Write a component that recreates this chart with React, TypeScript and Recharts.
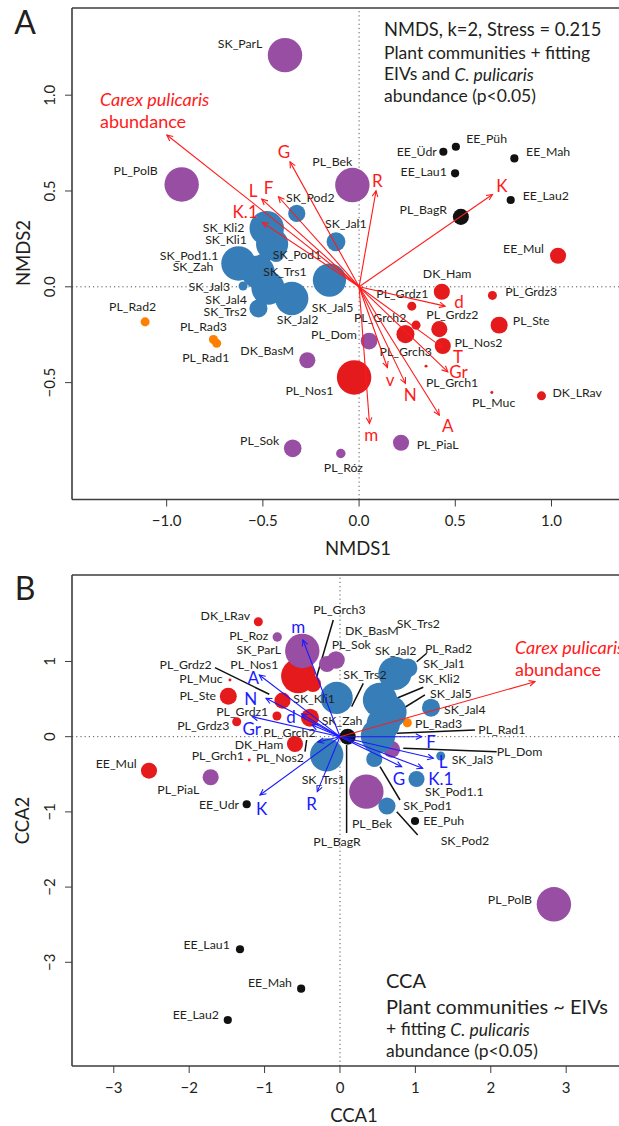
import React from "react";
import { ScatterChart, Scatter, XAxis, YAxis, ReferenceLine } from "recharts";

const FONT = "Lato, 'Liberation Sans', sans-serif";
const INK = "#231f20";

// sites – every array below follows this order
const SITES = [
  "SK_ParL", "SK_Pod2", "SK_Jal1", "SK_Kli2", "SK_Kli1", "SK_Pod1.1", "SK_Zah", "SK_Pod1", "SK_Trs1", "SK_Jal5", "SK_Jal2", "SK_Jal4", "SK_Trs2", "SK_Jal3",
  "PL_PolB", "PL_Bek", "PL_BagR", "PL_Rad2", "PL_Rad3", "PL_Rad1", "PL_Dom", "PL_Sok", "PL_Róz", "PL_PiaL", "PL_Nos1",
  "PL_Grdz1", "PL_Grdz2", "PL_Grdz3", "PL_Grch1", "PL_Grch2", "PL_Grch3", "PL_Nos2", "PL_Ste", "PL_Muc",
  "DK_BasM", "DK_Ham", "DK_LRav", "EE_Üdr", "EE_Püh", "EE_Mah", "EE_Lau1", "EE_Lau2", "EE_Mul",
];
// cluster: 1 blue, 2 purple, 3 red, 4 orange, 5 black
const CLUSTER = [
  2, 1, 1, 1, 1, 1, 1, 1, 1, 1, 1, 1, 1, 1,
  2, 2, 5, 4, 4, 4, 2, 2, 2, 2, 3,
  3, 3, 3, 3, 3, 3, 3, 3, 3,
  2, 3, 3, 5, 5, 5, 5, 5, 3,
];
// C. pulicaris abundance (circle size)
const ABUND = [
  16, 4, 4.8, 16, 14, 3.5, 16, 3.5, 15, 15, 15, 4.4, 15, 1.1,
  16, 16, 3.5, 1.1, 1.1, 1.1, 3.8, 4.2, 1.2, 3.5, 16,
  1.1, 3.5, 1.1, 0.12, 4.4, 1.1, 3.5, 3.9, 0.12,
  3.5, 3.5, 1.1, 0.9, 0.9, 0.9, 0.9, 0.9, 3.5,
];
const NMDS1 = [
  -0.385, -0.324, -0.12, -0.48, -0.452, -0.504, -0.627, -0.431, -0.525, -0.154, -0.35, -0.523, -0.473, -0.603,
  -0.922, -0.035, 0.529, -1.112, -0.757, -0.74, 0.052, -0.345, -0.095, 0.218, -0.026,
  0.274, 0.417, 0.693, 0.348, 0.241, 0.296, 0.435, 0.728, 0.69,
  -0.269, 0.43, 0.948, 0.438, 0.503, 0.807, 0.499, 0.788, 1.034,
];
const NMDS2 = [
  1.209, 0.383, 0.235, 0.306, 0.223, 0.129, 0.122, 0.171, 0.077, 0.035, -0.061, -0.113, -0.007, 0.004,
  0.534, 0.531, 0.365, -0.183, -0.275, -0.295, -0.283, -0.843, -0.87, -0.814, -0.473,
  -0.101, -0.221, -0.045, -0.414, -0.247, -0.2, -0.309, -0.2, -0.551,
  -0.383, -0.026, -0.569, 0.705, 0.731, 0.67, 0.592, 0.453, 0.162,
];
const CCA1 = [
  -0.5, 0.623, 0.902, 0.531, -0.044, 1.015, 0.504, 0.455, -0.176, 0.663, 0.729, 1.207, 0.574, 1.336,
  2.837, 0.35, 0.102, 0.862, 0.893, 0.69, 0.686, -0.053, -0.832, -1.715, -0.553,
  -0.836, -0.763, -1.37, -1.203, -0.398, -0.531, -0.358, -1.481, -1.459,
  -0.172, -0.597, -1.083, -1.237, 0.995, -0.515, -1.326, -1.488, -2.533,
];
const CCA2 = [
  1.14, -0.922, 0.914, 0.488, 0.515, -0.562, 0.009, -0.297, -0.243, 0.328, 0.843, 0.386, 0.169, -0.257,
  -2.229, -0.731, 0.0, 0.914, 0.186, 0.116, -0.168, 1.02, 1.326, -0.54, 0.807,
  0.275, 0.479, 0.199, -0.31, 0.253, 0.688, 0.701, 0.537, 0.754,
  0.967, -0.097, 1.529, -0.899, -1.121, -3.351, -2.827, -3.767, -0.452,
];

// fitted EIV vectors
const EIV_NMDS = ["G", "L", "F", "K.1", "R", "K", "d", "T", "Gr", "v", "N", "A", "m"];
const EIV_NMDS1 = [-0.359, -0.506, -0.419, -0.502, 0.088, 0.693, 0.447, 0.431, 0.461, 0.147, 0.241, 0.417, 0.054];
const EIV_NMDS2 = [0.652, 0.458, 0.47, 0.336, 0.501, 0.482, -0.101, -0.315, -0.444, -0.421, -0.504, -0.67, -0.713];
const EIV_CCA = ["m", "A", "N", "d", "Gr", "K", "R", "F", "L", "G", "K.1", "T", "v"];
const EIV_CCA1 = [-0.491, -1.07, -0.981, -0.508, -1.163, -1.061, -0.301, 1.083, 1.238, 0.818, 1.097, -0.371, -0.292];
const EIV_CCA2 = [1.286, 0.82, 0.511, 0.302, 0.266, -0.775, -0.731, 0.0, -0.287, -0.399, -0.42, 0.156, -0.07];
const CAREX_NMDS = [-0.999, 0.792];
const CAREX_CCA = [2.586, 0.731];

const COLORS: Record<number, string> = { 1: "#377eb8", 2: "#984ea3", 3: "#e41a1c", 4: "#ff7f00", 5: "#111111" };
const DRAW_ORDER = [4, 3, 2, 1, 5];
const radius = (ab: number) => 4.3 * Math.sqrt(ab);

type Anchor = "start" | "middle" | "end";
type LabelMap = Record<string, [number, number, Anchor]>;

// label placement (pixel offsets from the point)
const LABELS_A: LabelMap = {
  "SK_ParL": [-22.7, -11.7, "end"], "SK_Pod2": [-10.7, -16, "start"], "SK_Jal1": [-11, -18.4, "start"],
  "SK_Kli2": [-22.4, -0.3, "end"], "SK_Kli1": [-25.3, -4.7, "end"], "SK_Pod1.1": [-43.7, -7, "end"],
  "SK_Zah": [-25, 3.4, "end"], "SK_Pod1": [-3.3, 0, "start"], "SK_Trs1": [5.3, -0.3, "start"],
  "SK_Jal5": [-17.6, 27.3, "start"], "SK_Jal2": [-15, 20.7, "start"], "SK_Jal4": [-11.6, -9.3, "end"],
  "SK_Trs2": [-21.3, 23.7, "end"], "SK_Jal3": [-13, 0, "end"], "PL_PolB": [-24, -13.6, "end"],
  "PL_Bek": [-40, -24, "start"], "PL_BagR": [-14, -7.4, "end"], "PL_Rad2": [-12.5, -15, "middle"],
  "PL_Rad3": [-10, -13.3, "middle"], "PL_Rad1": [-10.9, 14.4, "middle"], "PL_Dom": [-12.3, -6.7, "end"],
  "PL_Sok": [-13.4, -8.3, "end"], "PL_Róz": [2.6, 14, "middle"], "PL_PiaL": [15.7, 1.6, "start"],
  "PL_Nos1": [-20.7, 12.7, "end"], "PL_Grdz1": [-9.5, -12.7, "middle"], "PL_Grdz2": [13, -14.7, "middle"],
  "PL_Grdz3": [12.7, -3.6, "start"], "PL_Grch1": [26, 16.3, "middle"], "PL_Grch2": [-25.3, -16.7, "middle"],
  "PL_Grch3": [-10.3, 26.7, "middle"], "PL_Nos2": [11.6, -3.3, "start"], "PL_Ste": [13.7, -5, "start"],
  "PL_Muc": [1.8, 10.4, "middle"], "DK_BasM": [-13.3, -9.3, "end"], "DK_Ham": [5.3, -18.4, "middle"],
  "DK_LRav": [11, -3.4, "start"], "EE_Üdr": [-6.6, 0, "end"], "EE_Püh": [10.3, -8.4, "start"],
  "EE_Mah": [11.7, -6.6, "start"], "EE_Lau1": [-8.3, -1.6, "end"], "EE_Lau2": [12, -4.3, "start"],
  "EE_Mul": [-14, -7.4, "end"],
};
const LABELS_B: LabelMap = {
  "SK_ParL": [-21.3, -1, "end"], "SK_Pod2": [78, 34.7, "middle"], "SK_Jal1": [15.3, -4, "start"],
  "SK_Kli2": [38.3, -21.7, "start"], "SK_Kli1": [-43.4, 0.3, "start"], "SK_Pod1.1": [8.5, 12.7, "start"],
  "SK_Zah": [-56.3, -15.5, "start"], "SK_Pod1": [29, 46, "start"], "SK_Trs1": [-25, 25, "start"],
  "SK_Jal5": [40, -18.7, "start"], "SK_Jal2": [-20, -22.6, "start"], "SK_Jal4": [13, 1.6, "start"],
  "SK_Trs2": [-40, -49, "start"], "SK_Jal3": [11, 3.3, "start"], "PL_PolB": [-21.9, -5, "end"],
  "PL_Bek": [5.6, 31.6, "middle"], "PL_BagR": [-10.7, 105, "middle"], "PL_Rad2": [20, -19.7, "start"],
  "PL_Rad3": [7.7, 0.6, "start"], "PL_Rad1": [86.3, 1.3, "start"], "PL_Dom": [105, 2.4, "start"],
  "PL_Sok": [-4.3, -15, "start"], "PL_Róz": [-9, -1, "end"], "PL_PiaL": [-11.4, 12.7, "end"],
  "PL_Nos1": [-20, -11.7, "end"], "PL_Grdz1": [-8.7, -5, "end"], "PL_Grdz2": [-70.8, -36.4, "end"],
  "PL_Grdz3": [-7.4, 4, "end"], "PL_Grch1": [-5.3, -4.3, "end"], "PL_Grch2": [-46.7, 15.3, "start"],
  "PL_Grch3": [13.3, -75, "start"], "PL_Nos2": [-57, 73.5, "start"], "PL_Ste": [-12.3, -1.3, "end"],
  "PL_Muc": [-7.3, -1.7, "end"], "DK_BasM": [18, -33, "start"], "DK_Ham": [-11.7, 0.3, "end"],
  "DK_LRav": [-8.3, -6.7, "end"], "EE_Üdr": [-7.7, 0.7, "end"], "EE_Püh": [8.2, 0, "start"],
  "EE_Mah": [-9.2, -6, "end"], "EE_Lau1": [-10.2, -5, "end"], "EE_Lau2": [-8.8, -5, "end"],
  "EE_Mul": [-12.3, -7.4, "end"],
};
const EXTRA_B: { site: string; dx: number; dy: number; anchor: Anchor }[] = [
  { site: "SK_Trs2", dx: 13.4, dy: -100.7, anchor: "start" },
];
const RENAME_B: Record<string, string> = { "PL_Róz": "PL_Roz", "EE_Üdr": "EE_Udr", "EE_Püh": "EE_Puh" };

const EIV_OFF_A: Record<string, [number, number]> = {
  G: [-6, -10], L: [-8.7, -8.3], F: [-10, -9], "K.1": [-17.3, -11.3], R: [1.3, -10], K: [9.4, -8.6],
  d: [14, -5], T: [16, 9], Gr: [10.6, -0.7], v: [2.7, 12], N: [4.7, 11], A: [8.4, 10], m: [1.7, 10.7],
};
const EIV_OFF_B: Record<string, [number, number]> = {
  m: [-4.7, -13.3], A: [-6, 2.3], N: [-15.3, 0], d: [-10.7, 2.7], Gr: [-0.6, 11.6], K: [1.7, 13.3],
  R: [-5.6, 12.3], F: [9.3, 5], L: [9.7, 3.7], G: [-2.7, 12.3], "K.1": [18, 10],
};

// black leader lines in the CCA panel (from label to site)
const LEADERS_B = [
  [-1.658, 0.918, -0.938, 0.564], [-0.089, 1.552, -0.309, 0.798], [-0.442, -0.044, -0.464, -0.199],
  [0.309, 0.71, 0.155, 0.399], [1.15, 1.109, 1.017, 0.997], [1.105, 0.657, 0.752, 0.511],
  [1.127, 0.555, 0.84, 0.378], [0.752, 0.045, 1.79, 0.089], [0.84, -0.154, 2.078, -0.199],
  [0.531, -0.399, 0.796, -0.842], [0.753, -0.997, 1.031, -1.307], [0.088, -0.11, 0.088, -1.281],
];

const minus = (s: string) => s.replace("-", "\u2212");

function arrowShape(kx: number, ky: number, color: string, textColor: string) {
  return (p: any) => {
    const { cx, cy, payload } = p;
    const ox = cx - payload.x * kx;
    const oy = cy + payload.y * ky;
    const ang = Math.atan2(cy - oy, cx - ox);
    const h = 6.5;
    const a = Math.PI / 7;
    const p1 = [cx - h * Math.cos(ang - a), cy - h * Math.sin(ang - a)];
    const p2 = [cx - h * Math.cos(ang + a), cy - h * Math.sin(ang + a)];
    return (
      <g>
        <line x1={ox} y1={oy} x2={cx} y2={cy} stroke={color} strokeWidth={1.1} />
        <polyline points={`${p1[0]},${p1[1]} ${cx},${cy} ${p2[0]},${p2[1]}`} fill="none" stroke={color} strokeWidth={1.1} />
        {payload.off && (
          <text x={cx + payload.off[0]} y={cy + payload.off[1]} textAnchor="middle" dominantBaseline="central"
            fontSize={17} fontFamily={FONT} fill={textColor}>{payload.label}</text>
        )}
      </g>
    );
  };
}

const circleShape = (p: any) => (
  <circle cx={p.cx} cy={p.cy} r={p.payload.r} fill={COLORS[p.payload.c]} />
);

const labelShape = (p: any) => (
  <text x={p.cx + p.payload.dx} y={p.cy + p.payload.dy} textAnchor={p.payload.anchor} dominantBaseline="central"
    fontSize={12.3} fontFamily={FONT} fill={INK}>{p.payload.text}</text>
);

interface PanelProps {
  w: number; h: number;
  m: { top: number; right: number; bottom: number; left: number };
  xd: [number, number]; yd: [number, number];
  xTicks: number[]; yTicks: number[]; fmt: (v: number) => string;
  sx: number[]; sy: number[]; labels: LabelMap; rename?: Record<string, string>;
  extra?: { site: string; dx: number; dy: number; anchor: Anchor }[];
  eiv: string[]; ex: number[]; ey: number[]; eivOff: Record<string, [number, number]>;
  eivColor: string; eivText: string; carex: number[]; leaders?: number[][];
}

const AXIS_H = 30;
const AXIS_W = 30;

function Panel(props: PanelProps) {
  const { w, h, m, xd, yd } = props;
  const kx = (w - m.left - m.right) / (xd[1] - xd[0]);
  const ky = (h - m.top - m.bottom) / (yd[1] - yd[0]);

  const pts = SITES.map((name, i) => ({ name, x: props.sx[i], y: props.sy[i], c: CLUSTER[i], r: radius(ABUND[i]) }))
    .sort((a, b) => DRAW_ORDER.indexOf(a.c) - DRAW_ORDER.indexOf(b.c) || a.r - b.r);

  const labels = SITES.map((name, i) => {
    const l = props.labels[name];
    return { x: props.sx[i], y: props.sy[i], text: props.rename?.[name] ?? name, dx: l[0], dy: l[1], anchor: l[2] };
  });
  (props.extra || []).forEach((e) => {
    const i = SITES.indexOf(e.site);
    labels.push({ x: props.sx[i], y: props.sy[i], text: props.rename?.[e.site] ?? e.site, dx: e.dx, dy: e.dy, anchor: e.anchor });
  });

  const arrows = props.eiv.map((n, i) => ({ x: props.ex[i], y: props.ey[i], label: n, off: props.eivOff[n] }));
  const carex = [{ x: props.carex[0], y: props.carex[1], label: "", off: undefined }];

  const axisStroke = "#3d3d3d";
  const xTick = (p: any) => (
    <text x={p.x} y={p.y} dy="0.71em" textAnchor="middle" fontSize={15} fontFamily={FONT} fill={INK}>
      {props.fmt(p.payload.value)}
    </text>
  );
  const yTick = (p: any) => (
    <text x={p.x} y={p.y} textAnchor="middle" transform={`rotate(-90 ${p.x} ${p.y})`} fontSize={15} fontFamily={FONT} fill={INK}>
      {props.fmt(p.payload.value)}
    </text>
  );

  // plot box is margin + axis band; axis bands take AXIS_H / AXIS_W
  const margin = { top: m.top, right: m.right, bottom: m.bottom - AXIS_H, left: m.left - AXIS_W };

  return (
    <ScatterChart width={w} height={h} margin={margin}>
      <XAxis type="number" dataKey="x" domain={xd} ticks={props.xTicks} interval={0} height={AXIS_H}
        tickSize={7} tickMargin={9} tick={xTick} axisLine={{ stroke: axisStroke, strokeWidth: 1.6 }}
        tickLine={{ stroke: axisStroke }} allowDataOverflow />
      <YAxis type="number" dataKey="y" domain={yd} ticks={props.yTicks} interval={0} width={AXIS_W}
        tickSize={7} tickMargin={10} tick={yTick} axisLine={{ stroke: axisStroke, strokeWidth: 1.6 }}
        tickLine={{ stroke: axisStroke }} allowDataOverflow />
      <ReferenceLine y={yd[1]} stroke={axisStroke} strokeWidth={1.6} ifOverflow="visible" />
      <Scatter data={pts} shape={circleShape} isAnimationActive={false} />
      <ReferenceLine x={0} stroke="#555" strokeDasharray="1.2 3" ifOverflow="visible" />
      <ReferenceLine y={0} stroke="#555" strokeDasharray="1.2 3" ifOverflow="visible" />
      <Scatter data={labels} shape={labelShape} isAnimationActive={false} />
      {(props.leaders || []).map((s, i) => (
        <ReferenceLine key={i} segment={[{ x: s[0], y: s[1] }, { x: s[2], y: s[3] }]} stroke="#111" strokeWidth={1.5} ifOverflow="visible" />
      ))}
      <Scatter data={arrows} shape={arrowShape(kx, ky, props.eivColor, props.eivText)} isAnimationActive={false} />
      <Scatter data={carex} shape={arrowShape(kx, ky, "#ff1a1a", "#ff1a1a")} isAnimationActive={false} />
    </ScatterChart>
  );
}

const txt = { fontFamily: FONT, fill: INK } as const;
const RED = "#ff1a1a";

export default function App() {
  return (
    <div style={{ position: "absolute", left: 0, top: 0, width: 619, height: 1126, overflow: "hidden", background: "#fff" }}>
      {/* A: NMDS */}
      <div style={{ position: "absolute", left: 0, top: 0 }}>
        <Panel w={630} h={560} m={{ top: 8, right: 5, bottom: 60.5, left: 72 }}
          xd={[-1.492, 1.382]} yd={[-1.11, 1.455]} xTicks={[-1, -0.5, 0, 0.5, 1]} yTicks={[-0.5, 0, 0.5, 1]}
          fmt={(v) => minus(v.toFixed(1))} sx={NMDS1} sy={NMDS2} labels={LABELS_A}
          eiv={EIV_NMDS} ex={EIV_NMDS1} ey={EIV_NMDS2} eivOff={EIV_OFF_A} eivColor="#ff1a1a" eivText={RED}
          carex={CAREX_NMDS} />
        <svg width={619} height={560} style={{ position: "absolute", left: 0, top: 0, pointerEvents: "none" }}>
          <text x={25} y={21} fontSize={32} textAnchor="middle" dominantBaseline="central" {...txt}>A</text>
          <text x={384} y={29} fontSize={18.3} dominantBaseline="central" {...txt}>NMDS, k=2, Stress = 0.215</text>
          <text x={384} y={52} fontSize={17.5} dominantBaseline="central" {...txt}>Plant communities + fitting</text>
          <text x={384} y={73.5} fontSize={17.5} dominantBaseline="central" {...txt}>
            EIVs and <tspan fontStyle="italic">C. pulicaris</tspan>
          </text>
          <text x={384} y={95} fontSize={17.5} dominantBaseline="central" {...txt}>abundance (p&lt;0.05)</text>
          <text x={100} y={99} fontSize={18} fontStyle="italic" dominantBaseline="central" fontFamily={FONT} fill={RED}>Carex pulicaris</text>
          <text x={100} y={121} fontSize={18} dominantBaseline="central" fontFamily={FONT} fill={RED}>abundance</text>
          <text x={358} y={548} fontSize={18.5} textAnchor="middle" dominantBaseline="central" {...txt}>NMDS1</text>
          <text x={23} y={253} fontSize={18.5} textAnchor="middle" dominantBaseline="central" transform="rotate(-90 23 253)" {...txt}>NMDS2</text>
        </svg>
      </div>
      {/* B: CCA */}
      <div style={{ position: "absolute", left: 0, top: 560 }}>
        <Panel w={630} h={566} m={{ top: 15, right: 5, bottom: 60, left: 72 }}
          xd={[-3.554, 3.78]} yd={[-4.379, 2.15]} xTicks={[-3, -2, -1, 0, 1, 2, 3]} yTicks={[-3, -2, -1, 0, 1]}
          fmt={(v) => minus(String(v))} sx={CCA1} sy={CCA2} labels={LABELS_B} rename={RENAME_B} extra={EXTRA_B}
          eiv={EIV_CCA} ex={EIV_CCA1} ey={EIV_CCA2} eivOff={EIV_OFF_B} eivColor="#1a1aff" eivText="#1a1aff"
          carex={CAREX_CCA} leaders={LEADERS_B} />
        <svg width={619} height={566} style={{ position: "absolute", left: 0, top: 0, pointerEvents: "none" }}>
          <text x={25} y={27} fontSize={32} textAnchor="middle" dominantBaseline="central" {...txt}>B</text>
          <text x={386} y={420} fontSize={20} dominantBaseline="central" {...txt}>CCA</text>
          <text x={386} y={445.5} fontSize={20} dominantBaseline="central" {...txt}>Plant communities ~ EIVs</text>
          <text x={386} y={468.5} fontSize={17.5} dominantBaseline="central" {...txt}>
            + fitting <tspan fontStyle="italic">C. pulicaris</tspan>
          </text>
          <text x={386} y={490} fontSize={17.5} dominantBaseline="central" {...txt}>abundance (p&lt;0.05)</text>
          <text x={515} y={86.5} fontSize={18} fontStyle="italic" dominantBaseline="central" fontFamily={FONT} fill={RED}>Carex pulicaris</text>
          <text x={515} y={108.5} fontSize={18} dominantBaseline="central" fontFamily={FONT} fill={RED}>abundance</text>
          <text x={354} y={555} fontSize={18.5} textAnchor="middle" dominantBaseline="central" {...txt}>CCA1</text>
          <text x={22} y={260.5} fontSize={18.5} textAnchor="middle" dominantBaseline="central" transform="rotate(-90 22 260.5)" {...txt}>CCA2</text>
        </svg>
      </div>
    </div>
  );
}
